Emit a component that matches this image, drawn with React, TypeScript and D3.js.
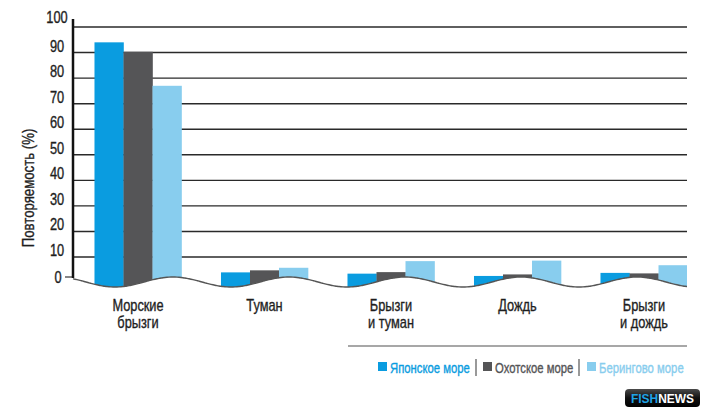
import { scaleBand, scaleLinear, line, curveBasis, range } from "d3";

const categories = [["Морские", "брызги"], ["Туман"], ["Брызги", "и туман"], ["Дождь"], ["Брызги", "и дождь"]];
const seriesNames = ["Японское море", "Охотское море", "Берингово  море"];
const seriesColors = ["#0a9ce0", "#555557", "#88cdee"];

// values per category, one per sea
const japanSea = [94, 4, 3.5, 2.6, 3.8];
const okhotskSea = [90.3, 4.8, 4.1, 3.2, 3.6];
const beringSea = [77, 5.8, 8.4, 8.6, 6.8];
const yTicks = [10, 20, 30, 40, 50, 60, 70, 80, 90, 100];

const W = 709;
const H = 418;
const axisX = 73;
const gridEnd = 687;
const font = "'Liberation Sans', Arial, sans-serif";

const y = scaleLinear().domain([0, 100]).range([282.6, 27]);
const keys = categories.map(c => c.join(" "));
const x0 = scaleBand<string>().domain(keys).range([74.75, 707.25]).paddingInner(0.312).paddingOuter(0.156);
const x1 = scaleBand<number>().domain([0, 1, 2]).range([0, x0.bandwidth()]);

// decorative wavy baseline
const wave = (x: number) => 282 + 5 * Math.cos((2 * Math.PI * (x - 115)) / 116);
const wavePts: [number, number][] = range(axisX, gridEnd + 1, 2).map(x => [x, wave(x)]);
const wavePath = line().curve(curveBasis)(wavePts) as string;
const clipPath = `M${axisX},0 L${gridEnd},0 ` + wavePts.slice().reverse().map(p => `L${p[0]},${p[1]}`).join(" ") + " Z";

// condensed look: squeeze a normal sans horizontally
function Narrow({ x, y, size, fill = "#1e1e1e", anchor = "start", sx = 0.8, rotate = 0, children }: any) {
  return (
    <g transform={`translate(${x},${y}) rotate(${rotate}) scale(${sx},1)`}>
      <text x={0} y={0} textAnchor={anchor} fontFamily={font} fontSize={size} fill={fill} stroke={fill} strokeWidth={0.35}>{children}</text>
    </g>
  );
}

export default function App() {
  const series = [japanSea, okhotskSea, beringSea];
  return (
    <svg width={W} height={H} style={{ position: "absolute", left: 0, top: 0, background: "#fff" }}>
      <defs>
        <clipPath id="aboveWave">
          <path d={clipPath} />
        </clipPath>
        <linearGradient id="logoGrad" x1="0" y1="0" x2="0" y2="1">
          <stop offset="0" stopColor="#4a4a4a" />
          <stop offset="0.5" stopColor="#111" />
          <stop offset="1" stopColor="#000" />
        </linearGradient>
      </defs>

      {yTicks.map(t => (
        <g key={t}>
          <line x1={axisX} x2={gridEnd} y1={y(t)} y2={y(t)} stroke="#2a2a2a" strokeWidth={1.4} />
          <Narrow x={57} y={y(t) - (t === 100 ? 4 : 1)} size={16} anchor="middle" sx={0.8}>{t}</Narrow>
        </g>
      ))}
      <Narrow x={58} y={283} size={16} anchor="middle" sx={0.8}>0</Narrow>
      <line x1={65} x2={axisX} y1={277} y2={277} stroke="#444" strokeWidth={1.3} />

      <g clipPath="url(#aboveWave)">
        {keys.map((k, i) => (
          <g key={k} transform={`translate(${x0(k)},0)`}>
            {series.map((s, j) => (
              <rect key={j} x={x1(j)} y={y(s[i])} width={x1.bandwidth() + 0.3} height={300 - y(s[i])} fill={seriesColors[j]} />
            ))}
          </g>
        ))}
      </g>
      <path d={wavePath} fill="none" stroke="#555" strokeWidth={1.4} />
      <line x1={axisX} x2={axisX} y1={19} y2={278} stroke="#111" strokeWidth={2.5} />

      <Narrow x={34} y={188} rotate={-90} size={16.5} anchor="middle" sx={0.8}>Повторяемость (%)</Narrow>

      {categories.map((c, i) => {
        const cx = (x0(keys[i]) as number) + x0.bandwidth() / 2;
        return c.map((ln, li) => (
          <Narrow key={`${i}-${li}`} x={cx} y={311 + li * 16.5} size={16} anchor="middle" sx={0.8}>{ln}</Narrow>
        ));
      })}

      <line x1={348} x2={gridEnd} y1={346} y2={346} stroke="#8a8a8a" strokeWidth={1.5} />
      {[378, 483, 587].map((lx, j) => (
        <g key={j}>
          <rect x={lx} y={362} width={9} height={9} fill={seriesColors[j]} />
          <Narrow x={lx + 12} y={372.5} size={14.5} fill={seriesColors[j]} sx={0.78}>{seriesNames[j]}</Narrow>
        </g>
      ))}
      <line x1={476} x2={476} y1={359} y2={376} stroke="#555" strokeWidth={1.2} />
      <line x1={579} x2={579} y1={359} y2={376} stroke="#555" strokeWidth={1.2} />

      <rect x={625} y={389} width={75} height={18} rx={4} fill="url(#logoGrad)" />
      <g transform="translate(662.5,402.5) scale(0.92,1)">
        <text x={0} y={0} textAnchor="middle" fontFamily={font} fontWeight="bold" fontSize={13}>
          <tspan fill="#1ea3e6">FISH</tspan>
          <tspan fill="#fff">NEWS</tspan>
        </text>
      </g>
    </svg>
  );
}
